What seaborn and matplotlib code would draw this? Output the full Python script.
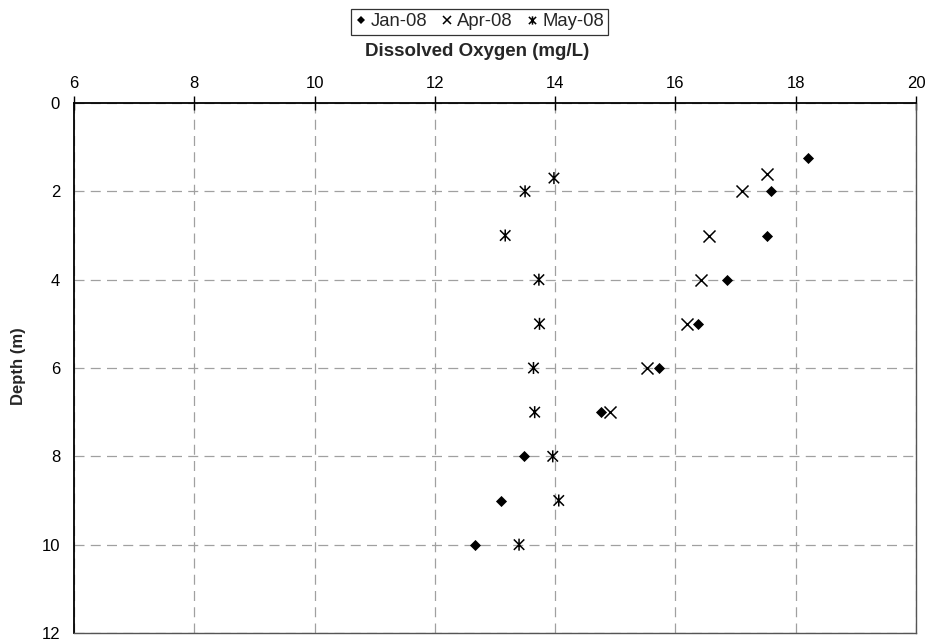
import pandas as pd
import seaborn as sns
import matplotlib
matplotlib.use("Agg")
import matplotlib.pyplot as plt
from matplotlib.path import Path
from matplotlib.lines import Line2D

# Data
jan_do = [18.2, 17.59, 17.53, 16.86, 16.37, 15.72, 14.77, 13.49, 13.10, 12.66]
jan_depth = [1.25, 2, 3, 4, 5, 6, 7, 8, 9, 10]
apr_do = [17.52, 17.10, 16.55, 16.43, 16.20, 15.52, 14.91]
apr_depth = [1.6, 2, 3, 4, 5, 6, 7]
may_do = [13.98, 13.50, 13.17, 13.73, 13.74, 13.64, 13.66, 13.96, 14.06, 13.40]
may_depth = [1.7, 2, 3, 4, 5, 6, 7, 8, 9, 10]
series_names = ["Jan-08", "Apr-08", "May-08"]

x_ticks = [6, 8, 10, 12, 14, 16, 18, 20]
y_ticks = [0, 2, 4, 6, 8, 10, 12]

df = pd.concat([
    pd.DataFrame({"DO": jan_do, "Depth": jan_depth, "Month": series_names[0]}),
    pd.DataFrame({"DO": apr_do, "Depth": apr_depth, "Month": series_names[1]}),
    pd.DataFrame({"DO": may_do, "Depth": may_depth, "Month": series_names[2]}),
])

sns.set_style("white")
plt.rcParams["font.family"] = ["Liberation Sans", "DejaVu Sans"]

# Excel-style asterisk: an X with a vertical bar through it
star_path = Path(
    [(-1, -1), (1, 1), (-1, 1), (1, -1), (0, -1.15), (0, 1.15)],
    [Path.MOVETO, Path.LINETO, Path.MOVETO, Path.LINETO, Path.MOVETO, Path.LINETO],
)

styles = {
    "Jan-08": dict(marker="D", s=32, linewidth=0, color="black"),
    "Apr-08": dict(marker="x", s=75, linewidth=1.1, color="black"),
    "May-08": dict(marker=star_path, s=75, linewidth=1.1, color="black",
                   edgecolor="black", facecolor="none"),
}

fig = plt.figure(figsize=(9.28, 6.41), dpi=100)
ax = fig.add_axes([74 / 928, 1 - 633 / 641, (916 - 74) / 928, (633 - 103) / 641])

for name in series_names:
    sub = df[df["Month"] == name]
    sns.scatterplot(data=sub, x="DO", y="Depth", ax=ax, legend=False,
                    zorder=3, **styles[name])

ax.set_xlim(6, 20)
ax.set_ylim(12, 0)
ax.set_xticks(x_ticks)
ax.set_yticks(y_ticks)
ax.xaxis.tick_top()
ax.xaxis.set_label_position("top")
ax.tick_params(axis="both", direction="inout", length=10, width=1,
               labelsize=12, colors="black")
ax.tick_params(axis="x", pad=4)
ax.tick_params(axis="y", pad=5)
ax.set_xlabel("")
ax.set_ylabel("")

ax.grid(True, color="#a0a0a0", linestyle=(0, (8, 5)), linewidth=0.9)
ax.set_axisbelow(True)

for side in ["top", "left"]:
    ax.spines[side].set_color("black")
    ax.spines[side].set_linewidth(1.3)
for side in ["bottom", "right"]:
    ax.spines[side].set_color("#555555")
    ax.spines[side].set_linewidth(1.0)

fig.text(477 / 928, 1 - 52 / 641, "Dissolved Oxygen (mg/L)", ha="center",
         va="center", fontsize=13.5, fontweight="bold")
fig.text(19 / 928, 1 - 366 / 641, "Depth (m)", ha="center", va="center",
         rotation=90, fontsize=12, fontweight="bold")

handles = [
    Line2D([], [], linestyle="none", marker="D", markersize=4.2,
           markerfacecolor="black", markeredgewidth=0, color="black"),
    Line2D([], [], linestyle="none", marker="x", markersize=6,
           markeredgewidth=1.1, color="black"),
    Line2D([], [], linestyle="none", marker=star_path, markersize=6,
           markeredgewidth=1.1, color="black", markerfacecolor="none"),
]
leg = fig.legend(handles, series_names, ncol=3, loc="center",
                 bbox_to_anchor=(479.5 / 928, 1 - 22 / 641), frameon=True,
                 fancybox=False, fontsize=13.3, handlelength=0.6,
                 handletextpad=0.25, columnspacing=0.75, borderpad=0.22,
                 borderaxespad=0)
leg.get_frame().set_edgecolor("black")
leg.get_frame().set_linewidth(0.9)

fig.savefig("out.png", dpi=100)
